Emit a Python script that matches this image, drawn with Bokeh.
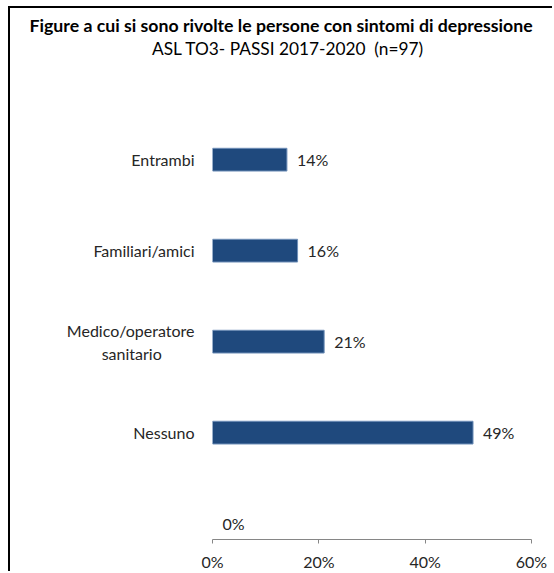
from bokeh.plotting import figure
from bokeh.models import (Range1d, FixedTicker, PrintfTickFormatter, Title,
                          ColumnDataSource)
from bokeh.core.properties import value
from bokeh.embed import file_html
from bokeh.resources import INLINE

# ---- data ----
categories = ["Entrambi", "Familiari/amici",
              "Medico/operatore\nsanitario" + "\u00a0" * 8,
              "Nessuno", ""]
percentages = [14, 16, 21, 49, 0]
x_ticks = [0, 20, 40, 60]
title_main = "Figure a cui si sono rivolte le persone con sintomi di depressione"
title_sub = "ASL TO3- PASSI 2017-2020\u00a0\u00a0(n=97)"

n = len(categories)
ypos = [n - 1 - i for i in range(n)]
labels = [f"{v}%" for v in percentages]
edge_alpha = [1.0 if v > 0 else 0.0 for v in percentages]
src = ColumnDataSource(dict(y=ypos, v=percentages, lab=labels, ea=edge_alpha))

FONT = "Lato"
TXT = "#262626"
FS = "16px"

p = figure(width=544, height=565, output_backend="svg", toolbar_location=None,
           x_range=Range1d(0, 60), y_range=Range1d(-0.1744, 5.1117),
           min_border_left=202, min_border_right=23, min_border_top=50,
           min_border_bottom=30)
p.styles = {"margin-left": "8px", "margin-top": "6px",
            "border-left": "2px solid #000000", "border-top": "2px solid #000000"}

p.hbar(y="y", right="v", left=0, height=0.25, source=src,
       fill_color="#1F497D", line_color="#6F8FB8", line_width=1, line_alpha="ea")
p.text(x="v", y="y", text="lab", source=src, x_offset=10,
       text_baseline="middle", text_align="left",
       text_font=value(FONT), text_font_size=FS, text_color=TXT)

# subtitle first (closest to plot), main title above it
p.add_layout(Title(text=title_sub, align="left", offset=-60.5, standoff=0,
                   text_font=FONT, text_font_size="17.3px",
                   text_font_style="normal", text_color="#000000"), "above")
p.add_layout(Title(text=title_main, align="left", offset=-183, standoff=0,
                   text_font=FONT, text_font_size="17.7px",
                   text_font_style="bold", text_color="#000000"), "above")

# x axis
xa = p.xaxis[0]
xa.ticker = FixedTicker(ticks=x_ticks)
xa.formatter = PrintfTickFormatter(format="%d%%")
xa.axis_line_color = "#868686"
xa.major_tick_line_color = "#868686"
xa.major_tick_in = 0
xa.major_tick_out = 4
xa.minor_tick_line_color = None
xa.major_label_standoff = 8
xa.major_label_text_font = FONT
xa.major_label_text_font_size = FS
xa.major_label_text_color = TXT

# y axis (categories)
ya = p.yaxis[0]
ya.ticker = FixedTicker(ticks=ypos)
ya.major_label_overrides = {y: c for y, c in zip(ypos, categories)}
ya.axis_line_color = None
ya.major_tick_line_color = None
ya.minor_tick_line_color = None
ya.major_label_standoff = 12
ya.major_label_text_font = FONT
ya.major_label_text_font_size = FS
ya.major_label_text_color = TXT

p.xgrid.visible = False
p.ygrid.visible = False
p.outline_line_color = None

open("out.html", "w").write(file_html(p, INLINE))
